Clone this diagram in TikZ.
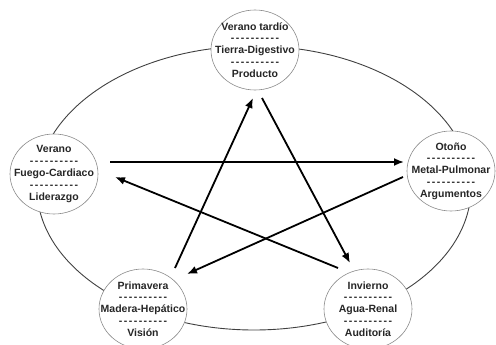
\documentclass[tikz,border=0pt]{standalone}
\usepackage{fontspec}
\setmainfont{Liberation Sans}
\newfontfamily\dashfont[LetterSpace=14]{Liberation Sans}
\usetikzlibrary{arrows.meta,shapes.geometric}
\newcommand\dl{{\dashfont\bfseries ----------}}
\tikzset{
  phase/.style={ellipse, draw=black!45, line width=0.6pt, fill=white,
    minimum width=88, minimum height=80, inner sep=0pt},
  ptext/.style={align=center, inner sep=0pt,
    font=\bfseries\fontsize{10.5}{11.8}\selectfont, text=black!85},
  ring/.style={ellipse, draw=black!75, line width=0.9pt,
    minimum width=434, minimum height=284, inner sep=0pt},
  arr/.style={line width=1.8pt, -{Latex[length=10pt,width=8pt]}}
}
\begin{document}
\begin{tikzpicture}[x=1pt,y=-1pt]
\useasboundingbox (0,0) rectangle (496,345);
\node[ring] (ring) at (254,188) {};
\node[phase] (top) at (255,50) {};
\node[ptext] (ttop) at (top) {Verano tardío\\\dl\\Tierra-Digestivo\\\dl\\Producto};
\node[phase] (ver) at (54,174) {};
\node[ptext] (tver) at (ver) {Verano\\\dl\\Fuego-Cardiaco\\\dl\\Liderazgo};
\node[phase] (oto) at (451,171) {};
\node[ptext] (toto) at (oto) {Otoño\\\dl\\Metal-Pulmonar\\\dl\\Argumentos};
\node[phase] (pri) at (143,309) {};
\node[ptext] (tpri) at (pri) {Primavera\\\dl\\Madera-Hepático\\\dl\\Visión};
\node[phase] (inv) at (368,309) {};
\node[ptext] (tinv) at (inv) {Invierno\\\dl\\Agua-Renal\\\dl\\Auditoría};
\draw[arr] ([shift={(56,-12)}]ver.center) -- ([shift={(-47,-9)}]oto.center);
\draw[arr] ([shift={(-48,6)}]oto.center) -- ([shift={(44,-35)}]pri.center);
\draw[arr] ([shift={(32,-41)}]pri.center) -- ([shift={(-2,48)}]top.center);
\draw[arr] ([shift={(7,48)}]top.center) -- ([shift={(-18,-46)}]inv.center);
\draw[arr] ([shift={(-30,-41)}]inv.center) -- ([shift={(61,3)}]ver.center);
\end{tikzpicture}
\end{document}
